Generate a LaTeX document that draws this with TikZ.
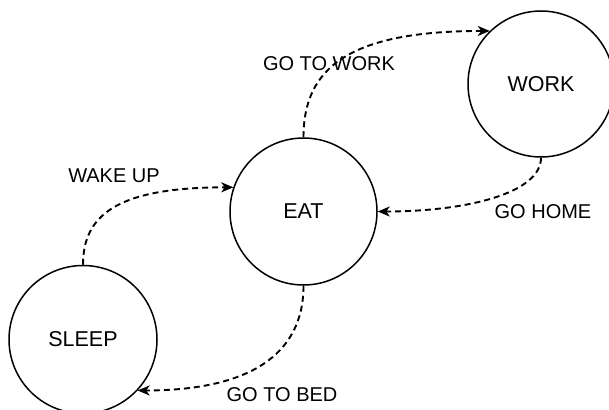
\documentclass[tikz,border=0pt]{standalone}
\usepackage{fontspec}
\setmainfont{Liberation Sans}
\usetikzlibrary{arrows.meta}
\begin{document}
\begin{tikzpicture}[x=1pt,y=1pt,
  state/.style={circle,draw,line width=1.5pt,inner sep=0pt,font=\fontsize{21.5}{25}\selectfont},
  trans/.style={draw,line width=1.9pt,dash pattern=on 6pt off 4pt,-{Stealth[length=12pt,width=10pt,inset=3.5pt]}},
  lbl/.style={inner sep=0pt,font=\fontsize{20}{24}\selectfont}]
\useasboundingbox (0,0) rectangle (609,-409);
\node[state,minimum size=148pt] (sleep) at (83,-339.5) {SLEEP};
\node[state,minimum size=147pt] (eat) at (303.5,-211.5) {EAT};
\node[state,minimum size=146pt] (work) at (541,-84) {WORK};
\draw[trans] (sleep.north) .. controls +(0,51) and +(-114,0) .. (eat.161);
\draw[trans] (eat.north) .. controls +(0,70) and +(-140,0) .. (work.134);
\draw[trans] (work.south) .. controls +(0,-35) and +(90,0) .. (eat.east);
\draw[trans] (eat.south) .. controls +(0,-70) and +(110,0) .. (sleep.-43);
\node[lbl] (lwake) at (114,-176) {WAKE UP};
\node[lbl] (lwork) at (329,-64) {GO TO WORK};
\node[lbl] (lhome) at (543,-212) {GO HOME};
\node[lbl] (lbed) at (282,-395) {GO TO BED};
\end{tikzpicture}
\end{document}
